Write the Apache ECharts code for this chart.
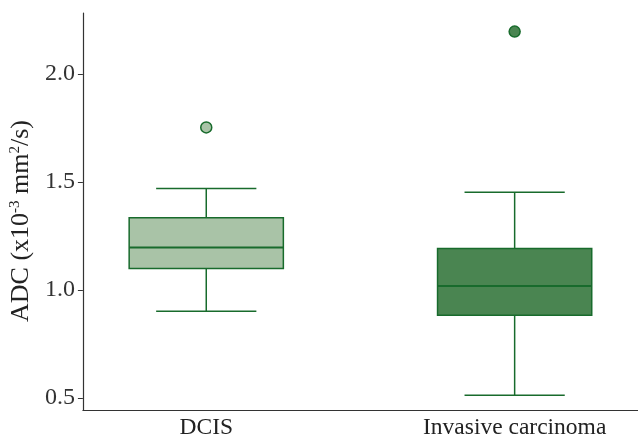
<!DOCTYPE html>
<html>
<head>
<meta charset="utf-8">
<script src="https://cdn.jsdelivr.net/npm/echarts@6/dist/echarts.min.js"></script>
<style>
  html, body { margin: 0; padding: 0; background: #fff; }
  #chart { width: 638px; height: 440px; }
</style>
</head>
<body>
<div id="chart"></div>
<script>
// groups on the x axis (placed at 1, 2)
const categories = ["DCIS", "Invasive carcinoma"];
// box stats per group: lower whisker, Q1, median, Q3, upper whisker
const whiskerLow = [0.902, 0.513];
const q1 = [1.099, 0.883];
const median = [1.196, 1.018];
const q3 = [1.334, 1.192];
const whiskerHigh = [1.469, 1.452];
// outliers: group index, value
const outlierGroup = [0, 1];
const outlierValue = [1.752, 2.195];
// y tick labels
const yTicks = [0.5, 1.0, 1.5, 2.0];

const fills = ["#a9c3a7", "#4a8551"];
const stroke = "#186b2c";
const serif = "Liberation Serif";

const boxData = categories.map((c, i) => ({
  name: c,
  value: [i + 1, whiskerLow[i], q1[i], median[i], q3[i], whiskerHigh[i]],
  itemStyle: { color: fills[i] },
}));

const outlierData = outlierGroup.map((g, i) => ({
  value: [g + 1, outlierValue[i]],
  itemStyle: { color: fills[g], borderColor: stroke, borderWidth: 1.5, opacity: 1 },
}));

function renderBox(params, api) {
  const x = api.value(0);
  const pLow = api.coord([x, api.value(1)]);
  const pQ1 = api.coord([x, api.value(2)]);
  const pMed = api.coord([x, api.value(3)]);
  const pQ3 = api.coord([x, api.value(4)]);
  const pHigh = api.coord([x, api.value(5)]);
  const halfBox = api.size([0.25, 0])[0];
  const halfCap = api.size([0.1625, 0])[0];
  const cx = pMed[0];
  const line = { stroke: stroke, lineWidth: 1.5 };
  return {
    type: "group",
    children: [
      { type: "line", shape: { x1: cx, y1: pLow[1], x2: cx, y2: pQ1[1] }, style: line },
      { type: "line", shape: { x1: cx, y1: pQ3[1], x2: cx, y2: pHigh[1] }, style: line },
      { type: "line", shape: { x1: cx - halfCap, y1: pLow[1], x2: cx + halfCap, y2: pLow[1] }, style: line },
      { type: "line", shape: { x1: cx - halfCap, y1: pHigh[1], x2: cx + halfCap, y2: pHigh[1] }, style: line },
      {
        type: "rect",
        shape: { x: cx - halfBox, y: pQ3[1], width: halfBox * 2, height: pQ1[1] - pQ3[1] },
        style: { fill: api.visual("color"), stroke: stroke, lineWidth: 1.5 },
      },
      { type: "line", shape: { x1: cx - halfBox, y1: pMed[1], x2: cx + halfBox, y2: pMed[1] }, style: { stroke: stroke, lineWidth: 2 } },
    ],
  };
}

const chart = echarts.init(document.getElementById("chart"));
chart.setOption({
  animation: false,
  grid: { left: 82, right: 0, top: 13, bottom: 29 },
  xAxis: {
    type: "value",
    min: 0.6,
    max: 2.4,
    splitLine: { show: false },
    axisLine: { lineStyle: { color: "#333", width: 1.2 } },
    axisTick: { show: false },
    axisLabel: {
      customValues: [1, 2],
      formatter: (v) => categories[Math.round(v) - 1],
      color: "#222",
      fontFamily: serif,
      fontSize: 23.5,
      margin: 6,
    },
  },
  yAxis: {
    type: "value",
    min: 0.445,
    max: 2.281,
    splitLine: { show: false },
    axisLine: { show: true, lineStyle: { color: "#333", width: 1.2 } },
    axisTick: { show: true, customValues: yTicks, length: 5, lineStyle: { color: "#333" } },
    axisLabel: {
      customValues: yTicks,
      formatter: (v) => v.toFixed(1),
      color: "#333",
      fontFamily: serif,
      fontSize: 24,
      margin: 8,
    },
    name: "ADC (x10{sup|-3} mm{sup|2}/s)",
    nameLocation: "middle",
    nameGap: 44,
    nameTextStyle: {
      color: "#222",
      fontFamily: serif,
      fontSize: 26,
      padding: [0, 19, 0, 0],
      rich: {
        sup: { fontFamily: serif, fontSize: 15, verticalAlign: "top", color: "#222" },
      },
    },
  },
  series: [
    {
      type: "custom",
      renderItem: renderBox,
      encode: { x: 0, y: [1, 2, 3, 4, 5] },
      data: boxData,
      clip: false,
    },
    {
      type: "scatter",
      symbolSize: 11,
      data: outlierData,
      z: 5,
    },
  ],
});
</script>
</body>
</html>
